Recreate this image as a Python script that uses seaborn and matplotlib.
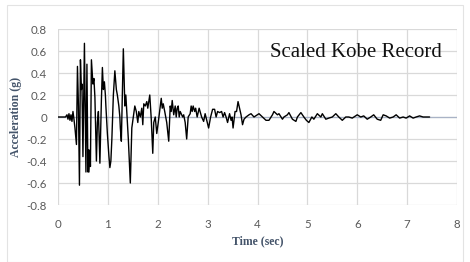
import numpy as np
import pandas as pd
import matplotlib
matplotlib.use('Agg')
import matplotlib.pyplot as plt
import matplotlib.patches as patches
import seaborn as sns

# time (sec) and acceleration (g)
time = [0.00, 0.15, 0.18, 0.20, 0.22, 0.24, 0.26, 0.28, 0.30, 0.32, 0.34, 0.37, 0.39, 0.41, 0.43, 0.45,
        0.47, 0.48, 0.50, 0.53, 0.56, 0.58, 0.60, 0.61, 0.62, 0.64, 0.65, 0.67, 0.70, 0.72, 0.74, 0.77,
        0.79, 0.81, 0.84, 0.87, 0.89, 0.91, 0.93, 0.95, 0.96, 0.99, 1.02, 1.04, 1.06, 1.08, 1.11, 1.14,
        1.17, 1.19, 1.22, 1.24, 1.25, 1.27, 1.31, 1.34, 1.36, 1.39, 1.41, 1.45, 1.48, 1.51, 1.54, 1.57,
        1.60, 1.62, 1.65, 1.68, 1.70, 1.72, 1.75, 1.78, 1.80, 1.84, 1.87, 1.90, 1.92, 1.95, 1.98, 2.01,
        2.07, 2.09, 2.11, 2.14, 2.18, 2.22, 2.25, 2.27, 2.29, 2.32, 2.35, 2.37, 2.39, 2.41, 2.43, 2.45,
        2.50, 2.52, 2.55, 2.58, 2.61, 2.65, 2.67, 2.69, 2.71, 2.74, 2.76, 2.79, 2.83, 2.88, 2.92, 2.95,
        3.02, 3.06, 3.10, 3.14, 3.17, 3.20, 3.24, 3.28, 3.31, 3.34, 3.37, 3.40, 3.44, 3.47, 3.49, 3.51,
        3.55, 3.58, 3.61, 3.64, 3.67, 3.70, 3.73, 3.77, 3.83, 3.87, 3.93, 4.03, 4.10, 4.17, 4.23, 4.30,
        4.33, 4.40, 4.43, 4.50, 4.53, 4.60, 4.63, 4.70, 4.77, 4.80, 4.87, 4.93, 4.98, 5.03, 5.09, 5.13,
        5.20, 5.27, 5.30, 5.37, 5.43, 5.50, 5.57, 5.63, 5.70, 5.77, 5.83, 5.90, 6.00, 6.07, 6.13, 6.20,
        6.27, 6.33, 6.40, 6.47, 6.52, 6.58, 6.65, 6.72, 6.78, 6.85, 6.92, 6.98, 7.05, 7.12, 7.18, 7.25,
        7.32, 7.45]
accel = [0.00, 0.00, 0.02, -0.02, 0.03, -0.03, 0.02, -0.04, 0.05, -0.02, -0.10, -0.25, 0.46, 0.10, -0.62, 0.52,
         0.25, 0.30, -0.36, 0.67, -0.50, 0.48, -0.50, -0.30, -0.50, -0.30, -0.45, 0.52, 0.30, 0.35, 0.18, -0.40,
         -0.05, 0.05, -0.42, 0.15, 0.45, 0.25, 0.32, 0.20, 0.10, -0.15, -0.35, -0.46, -0.40, -0.20, 0.20, 0.42,
         0.25, 0.20, 0.10, 0.00, -0.10, -0.22, 0.62, 0.10, 0.20, -0.05, -0.20, -0.60, -0.10, 0.00, 0.10, 0.05,
         -0.05, 0.05, 0.00, 0.08, -0.07, 0.12, 0.10, 0.14, 0.08, 0.20, -0.02, -0.33, -0.05, 0.00, -0.15, -0.05,
         0.17, 0.08, 0.12, 0.05, -0.05, -0.22, 0.10, 0.05, 0.15, 0.02, 0.10, 0.00, 0.08, 0.10, 0.00, 0.05,
         0.00, 0.02, -0.05, -0.20, 0.00, 0.03, 0.10, 0.05, 0.10, 0.05, 0.08, 0.00, 0.08, 0.00, -0.04, 0.03,
         -0.10, 0.00, 0.07, 0.07, 0.00, 0.05, 0.04, 0.05, 0.00, 0.04, 0.00, -0.05, 0.03, -0.03, 0.00, -0.10,
         0.05, 0.05, 0.14, 0.08, 0.02, -0.07, -0.02, 0.00, 0.02, 0.03, 0.00, 0.03, 0.00, -0.03, -0.03, 0.02,
         0.05, 0.02, 0.03, -0.02, 0.00, 0.02, 0.04, -0.02, -0.04, 0.00, 0.04, 0.00, -0.03, -0.05, 0.00, -0.02,
         0.03, 0.00, 0.03, -0.02, -0.01, 0.00, 0.03, 0.00, -0.03, 0.00, 0.00, -0.01, 0.02, 0.00, 0.01, -0.02,
         0.00, 0.02, -0.02, -0.03, 0.02, 0.01, -0.01, 0.00, 0.02, -0.01, 0.00, -0.01, 0.01, -0.01, 0.00, 0.01,
         0.00, 0.00]

xticks = [0, 1, 2, 3, 4, 5, 6, 7, 8]
yticks = [-0.8, -0.6, -0.4, -0.2, 0, 0.2, 0.4, 0.6, 0.8]
yticklabels = ['-0.8', '-0.6', '-0.4', '-0.2', '0', '0.2', '0.4', '0.6', '0.8']

df = pd.DataFrame({'t': time, 'a': accel})

sns.set_theme(style='white')
plt.rcParams['font.family'] = ['Lato', 'DejaVu Sans']

fig = plt.figure(figsize=(4.7, 2.62), dpi=100)
ax = fig.add_axes([58/470, 1-205/262, (457-58)/470, (205-29)/262])

grid = '#D9D9D9'
for x in xticks:
    ax.axvline(x, color=grid, lw=0.9, zorder=0)
for y in yticks:
    ax.axhline(y, color=grid, lw=0.9, zorder=0)
ax.axhline(0, color='#A9B3C6', lw=0.9, zorder=1)

sns.lineplot(data=df, x='t', y='a', sort=False, estimator=None, color='black', lw=1.0, ax=ax, zorder=3)

ax.set_xlim(0, 8)
ax.set_ylim(-0.8, 0.8)
ax.set_xticks(xticks)
ax.set_yticks(yticks)
ax.set_yticklabels(yticklabels)
for s in ax.spines.values():
    s.set_visible(False)
ax.tick_params(axis='both', length=0, labelsize=8.3, colors='#595959')
ax.tick_params(axis='x', pad=10)
ax.tick_params(axis='y', pad=8)

lab = dict(family=['Liberation Serif'], weight='bold', fontsize=8.5, color='#44546A')
ax.set_xlabel('Time (sec)', labelpad=4, **lab)
ax.set_ylabel('Acceleration (g)', labelpad=3, **lab)

ax.text(0.962, 0.864, 'Scaled Kobe Record', transform=ax.transAxes, ha='right', va='center',
        family=['Liberation Serif'], fontsize=15, color='#111111')

fig.patches.append(patches.Rectangle((7/470, 0), 1-14/470, 1-5/262, transform=fig.transFigure,
                                     fill=False, edgecolor='#E3E3E3', lw=0.8))

fig.savefig('out.png', dpi=100)
